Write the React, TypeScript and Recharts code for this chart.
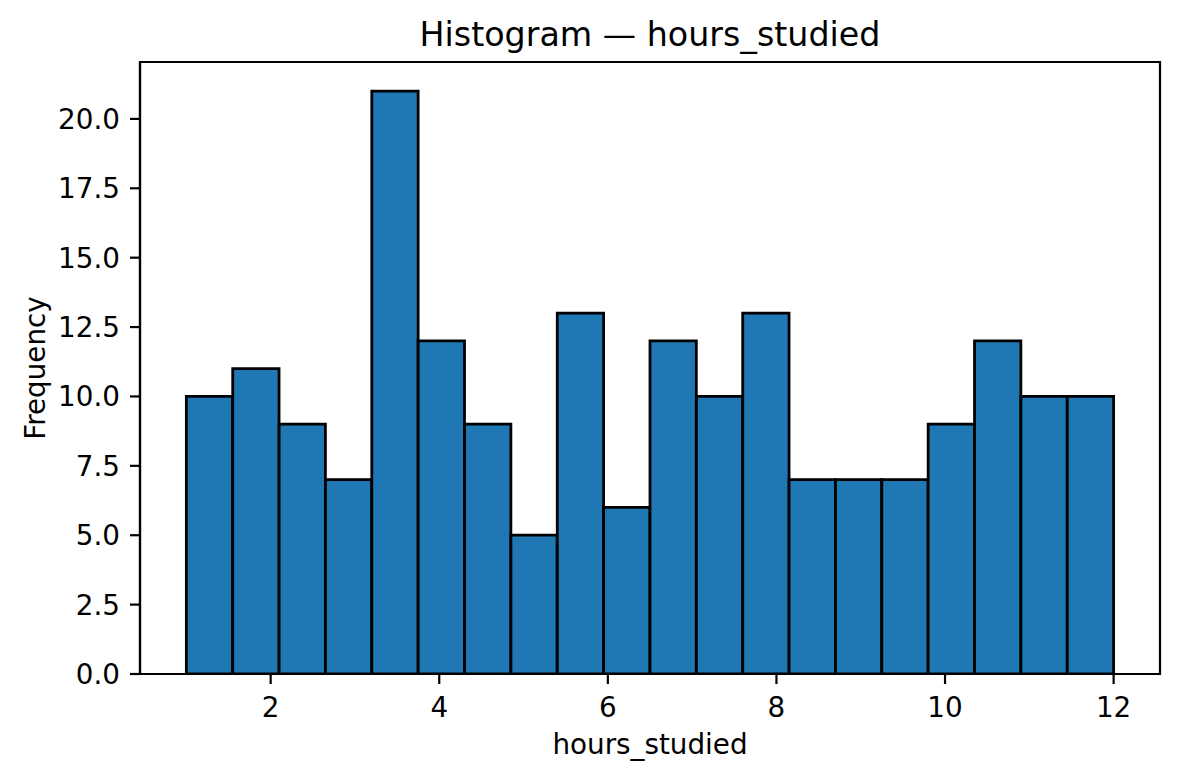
import React from 'react'
import { BarChart, Bar, XAxis, YAxis, ReferenceArea } from 'recharts'

// histogram of hours_studied, 20 bins from 1 to 12
const binCenters = [
  1.275, 1.825, 2.375, 2.925, 3.475, 4.025, 4.575, 5.125, 5.675, 6.225,
  6.775, 7.325, 7.875, 8.425, 8.975, 9.525, 10.075, 10.625, 11.175, 11.725,
]
const counts = [10, 11, 9, 7, 21, 12, 9, 5, 13, 6, 12, 10, 13, 7, 7, 7, 9, 12, 10, 10]
const xTicks = [2, 4, 6, 8, 10, 12]
const yTicks = [0, 2.5, 5, 7.5, 10, 12.5, 15, 17.5, 20]

const BIN_WIDTH = 0.55
const X_MIN = 0.45
const X_MAX = 12.55
const Y_MAX = 22.05

const W = 1179
const H = 782
const PLOT_LEFT = 140
const PLOT_RIGHT = 1160
const PLOT_TOP = 62
const PLOT_BOTTOM = 674
const PLOT_W = PLOT_RIGHT - PLOT_LEFT

const FONT = '"DejaVu Sans", sans-serif'
const TICK_FS = 27.8

const chartData = binCenters.map((center, i) => ({ center, count: counts[i] }))

const XTick = (props: any) => {
  const { x, y, payload } = props
  return (
    <text x={x} y={y + 33} textAnchor="middle" fontFamily={FONT} fontSize={TICK_FS} fill="#000">
      {payload.value}
    </text>
  )
}

const YTick = (props: any) => {
  const { x, y, payload } = props
  return (
    <text x={x - 10} y={y + 10} textAnchor="end" fontFamily={FONT} fontSize={TICK_FS} fill="#000">
      {Number(payload.value).toFixed(1)}
    </text>
  )
}

export default function App() {
  // a hair under the band width, otherwise recharts shrinks bars to 90%
  const barSize = (BIN_WIDTH / (X_MAX - X_MIN)) * PLOT_W - 0.05

  return (
    <div style={{ position: 'relative', width: W, height: H, background: '#fff' }}>
      <style>{`body { margin: 0; }`}</style>
      <BarChart
        width={W}
        height={H}
        data={chartData}
        margin={{ top: PLOT_TOP, right: W - PLOT_RIGHT, left: 0, bottom: 0 }}
        barCategoryGap={0}
        barGap={0}
      >
        <XAxis
          dataKey="center"
          type="number"
          domain={[X_MIN, X_MAX]}
          allowDataOverflow
          ticks={xTicks}
          height={H - PLOT_BOTTOM}
          tickSize={10}
          tickMargin={0}
          tick={<XTick />}
          axisLine={{ stroke: '#000', strokeWidth: 2.2 }}
          tickLine={{ stroke: '#000', strokeWidth: 2.2 }}
        />
        <YAxis
          type="number"
          domain={[0, Y_MAX]}
          allowDataOverflow
          ticks={yTicks}
          width={PLOT_LEFT}
          tickSize={10}
          tickMargin={0}
          tick={<YTick />}
          axisLine={{ stroke: '#000', strokeWidth: 2.2 }}
          tickLine={{ stroke: '#000', strokeWidth: 2.2 }}
        />
        <ReferenceArea
          x1={X_MIN}
          x2={X_MAX}
          y1={0}
          y2={Y_MAX}
          fill="none"
          fillOpacity={0}
          stroke="#000"
          strokeWidth={2.2}
          strokeOpacity={1}
        />
        <Bar
          dataKey="count"
          fill="#1f77b4"
          stroke="#000"
          strokeWidth={2.8}
          barSize={barSize}
          isAnimationActive={false}
        />
      </BarChart>
      <svg
        width={W}
        height={H}
        style={{ position: 'absolute', left: 0, top: 0, pointerEvents: 'none' }}
      >
        <text x={(PLOT_LEFT + PLOT_RIGHT) / 2} y={46} textAnchor="middle" fontFamily={FONT} fontSize={33.3} fill="#000">
          Histogram — hours_studied
        </text>
        <text x={(PLOT_LEFT + PLOT_RIGHT) / 2} y={754} textAnchor="middle" fontFamily={FONT} fontSize={TICK_FS} fill="#000">
          hours_studied
        </text>
        <text
          x={45}
          y={(PLOT_TOP + PLOT_BOTTOM) / 2}
          textAnchor="middle"
          fontFamily={FONT}
          fontSize={TICK_FS}
          fill="#000"
          transform={`rotate(-90 45 ${(PLOT_TOP + PLOT_BOTTOM) / 2})`}
        >
          Frequency
        </text>
      </svg>
    </div>
  )
}
